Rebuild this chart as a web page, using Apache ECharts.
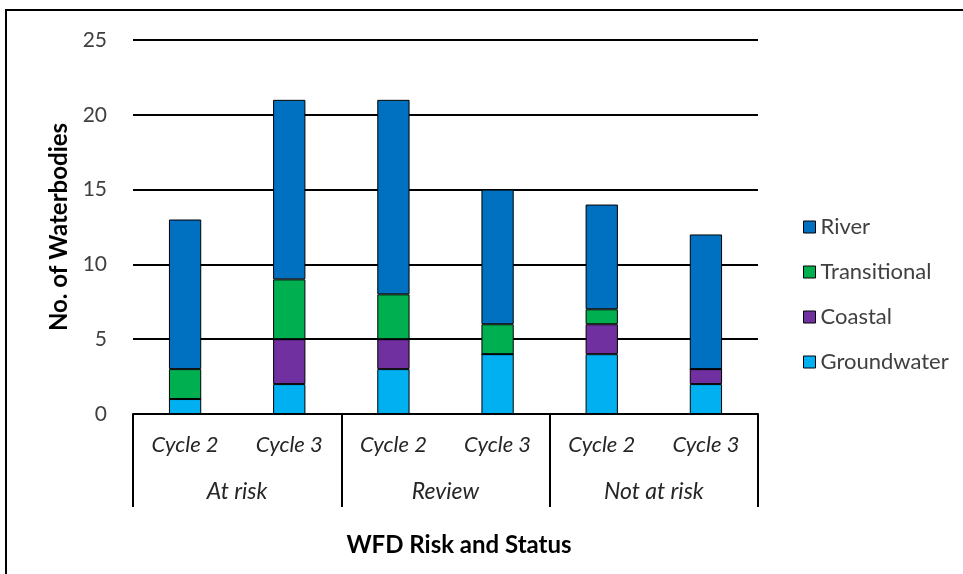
<!DOCTYPE html>
<html><head><meta charset="utf-8">
<script src="https://cdn.jsdelivr.net/npm/echarts@6/dist/echarts.min.js"></script>
<style>html,body{margin:0;padding:0;background:#fff}#c{width:963px;height:574px}</style>
</head><body><div id="c"></div>
<script>
const cycles = ['Cycle 2','Cycle 3','Cycle 2','Cycle 3','Cycle 2','Cycle 3'];
const groups = ['At risk','Review','Not at risk'];
const groundwater = [1,2,3,4,4,2];
const coastal = [0,3,2,0,2,1];
const transitional = [2,4,3,2,1,0];
const river = [10,12,13,9,7,9];
const yTicks = [0,5,10,15,20,25];

const FONT = 'Lato';
const chart = echarts.init(document.getElementById('c'), null, {renderer:'canvas'});
function s(name, data, color){
  return {name, type:'bar', stack:'t', data, barWidth:'31%',
    itemStyle:{color, borderColor:'#000', borderWidth:1}};
}
chart.setOption({
  animation:false,
  textStyle:{fontFamily:FONT},
  grid:{left:133, right:205, top:40, bottom:160},
  legend:{orient:'vertical', left:798, top:211, itemWidth:12, itemHeight:12, itemGap:23, icon:'rect',
    data:['River','Transitional','Coastal','Groundwater'],
    textStyle:{fontSize:22, color:'#404040', fontFamily:FONT},
    itemStyle:{borderColor:'#000', borderWidth:1}},
  xAxis:[
    {type:'category', data:cycles, position:'bottom',
      axisLine:{lineStyle:{color:'#000', width:2}}, axisTick:{show:false},
      axisLabel:{fontSize:22, fontStyle:'italic', color:'#262626', margin:20, fontFamily:FONT}},
    {type:'category', data:groups, position:'bottom',
      axisLine:{show:false},
      axisTick:{show:true, length:93, lineStyle:{color:'#000', width:2}},
      axisLabel:{fontSize:23, fontStyle:'italic', color:'#262626', margin:66, fontFamily:FONT}},
  ],
  yAxis:{type:'value', min:yTicks[0], max:yTicks[yTicks.length-1], interval:5,
    axisLine:{show:false}, axisTick:{show:false},
    splitLine:{lineStyle:{color:'#000', width:2}},
    axisLabel:{fontSize:21, color:'#404040', margin:26, fontFamily:FONT},
    name:'No. of Waterbodies', nameLocation:'middle', nameGap:57,
    nameTextStyle:{fontSize:24, fontWeight:'bold', color:'#000', fontFamily:FONT}},
  title:{text:'WFD Risk and Status', left:454, top:528, textAlign:'center',
    textStyle:{fontSize:24, fontWeight:'bold', color:'#000', fontFamily:FONT}},
  graphic:[{type:'rect', shape:{x:6, y:10, width:1000, height:1000},
    style:{fill:'none', stroke:'#000', lineWidth:2}, silent:true}],
  series:[
    s('Groundwater', groundwater, '#00B0F0'),
    s('Coastal', coastal, '#7030A0'),
    s('Transitional', transitional, '#00B050'),
    s('River', river, '#0070C0')
  ]
});
</script></body></html>
